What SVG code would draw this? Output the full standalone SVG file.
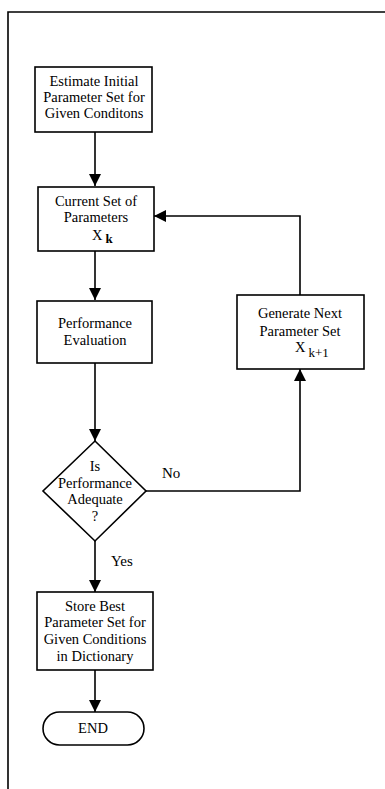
<svg xmlns="http://www.w3.org/2000/svg" width="385" height="789" viewBox="0 0 385 789">
<style>
.b{fill:#fff;stroke:#000;stroke-width:1.6}
.t{font-family:"Liberation Serif","Times New Roman",serif;font-size:14.5px;fill:#000;text-anchor:middle}
.x{font-family:"Liberation Serif","Times New Roman",serif;font-size:14.5px;fill:#000}
.l{font-family:"Liberation Serif","Times New Roman",serif;font-size:15px;fill:#000}
.c{fill:none;stroke:#000;stroke-width:1.6}
</style>
<defs>
<marker id="ah" markerUnits="userSpaceOnUse" markerWidth="12" markerHeight="12" viewBox="0 0 12 12" refX="12" refY="6" orient="auto">
<path d="M0,0 L12,6 L0,12 Z" fill="#000"/>
</marker>
</defs>
<rect width="385" height="789" fill="#fff"/>
<g id="frame">
<path class="c" d="M8,789 L8,12 L385,12"/>
</g>
<g id="connectors">
<path class="c" d="M95,132 L95,186" marker-end="url(#ah)"/>
<path class="c" d="M95,251 L95,300" marker-end="url(#ah)"/>
<path class="c" d="M95,363 L95,441" marker-end="url(#ah)"/>
<path class="c" d="M95,541 L95,592" marker-end="url(#ah)"/>
<path class="c" d="M95,670 L95,712" marker-end="url(#ah)"/>
<path class="c" d="M146,491 L300,491 L300,369" marker-end="url(#ah)"/>
<path class="c" d="M300,295 L300,216 L154,216" marker-end="url(#ah)"/>
<text class="l" x="162" y="478">No</text>
<text class="l" x="111" y="566">Yes</text>
</g>
<g id="n1">
<rect class="b" x="35" y="67" width="117" height="65"/>
<text class="t" x="94" y="86">Estimate Initial</text>
<text class="t" x="94" y="102">Parameter Set for</text>
<text class="t" x="94" y="118">Given Conditons</text>
</g>
<g id="n2">
<rect class="b" x="38" y="187" width="116" height="64"/>
<text class="t" x="96" y="206">Current Set of</text>
<text class="t" x="96" y="222">Parameters</text>
<text class="x" x="92" y="240">X<tspan font-size="13" dx="3" dy="3" font-weight="bold">k</tspan></text>
</g>
<g id="n3">
<rect class="b" x="37" y="301" width="115" height="62"/>
<text class="t" x="95" y="328">Performance</text>
<text class="t" x="95" y="345">Evaluation</text>
</g>
<g id="n4">
<rect class="b" x="237" y="295" width="127" height="74"/>
<text class="t" x="300" y="318">Generate Next</text>
<text class="t" x="300" y="336">Parameter Set</text>
<text class="x" x="295" y="352">X<tspan font-size="13" dx="3" dy="5">k+1</tspan></text>
</g>
<g id="n5">
<path class="b" d="M95,441 L146,491 L95,541 L43,491 Z"/>
<text class="t" x="95" y="471">Is</text>
<text class="t" x="95" y="488">Performance</text>
<text class="t" x="95" y="504">Adequate</text>
<text class="t" x="95" y="521">?</text>
</g>
<g id="n6">
<rect class="b" x="37" y="592" width="116" height="78"/>
<text class="t" x="95" y="611">Store Best</text>
<text class="t" x="95" y="627">Parameter Set for</text>
<text class="t" x="95" y="644">Given Conditions</text>
<text class="t" x="95" y="661">in Dictionary</text>
</g>
<g id="n7">
<rect class="b" x="43" y="712" width="101" height="33" rx="16.5" ry="16.5"/>
<text class="t" x="93" y="733">END</text>
</g>
</svg>
